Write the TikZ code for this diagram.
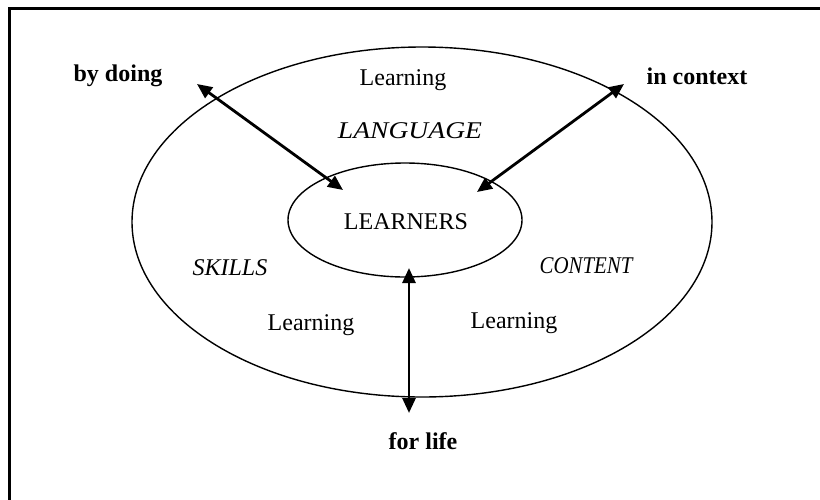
\documentclass[tikz,border=0pt]{standalone}
\usepackage{graphicx}
\usepackage{fontspec}
\setmainfont{Liberation Serif}
\usetikzlibrary{shapes.geometric,arrows.meta}
\begin{document}
\begin{tikzpicture}[x=1pt,y=-1pt,
  ring/.style={draw,ellipse,line width=1.4pt,inner sep=0pt},
  word/.style={font=\fontsize{24}{28}\selectfont,inner sep=0pt},
  itword/.style={word,font=\fontsize{24}{28}\selectfont\itshape},
  bword/.style={word,font=\fontsize{24}{28}\selectfont\bfseries},
  link/.style={line width=2.8pt,{Triangle[length=15pt,width=13pt]}-{Triangle[length=15pt,width=13pt]}}]
  \useasboundingbox (0,0) rectangle (820,499);
  % frame edges
  \begin{scope}
    \clip (0,0) rectangle (820,499);
    \draw[line width=2.6pt] (9.5,510) -- (9.5,8.2) -- (830,8.2);
  \end{scope}
  % rings
  \node[ring,minimum width=580pt,minimum height=350pt] (outer) at (422,222) {};
  \node[ring,minimum width=234pt,minimum height=114pt] (inner) at (405,220) {};
  \node[word] (learners) at (406,222) {LEARNERS};
  % ring labels
  \node[word] (learnTop) at (403,80) {Learning};
  \node[itword] (language) at (410,131) {\scalebox{1.15}[1]{LANGUAGE}};
  \node[itword] (skills) at (230,268) {SKILLS};
  \node[itword] (content) at (586,266) {\scalebox{0.87}[1]{CONTENT}};
  \node[word] (learnLeft) at (311,325) {Learning};
  \node[word] (learnRight) at (514,323) {Learning};
  % outside labels
  \node[bword] (doing) at (118,76) {by doing};
  \node[bword] (context) at (697,76) {in context};
  \node[bword] (life) at (423,441) {for life};
  % arrow ends
  \coordinate (dOut) at (197,84);
  \coordinate (dIn) at (343,190);
  \coordinate (cOut) at (624,84);
  \coordinate (cIn) at (477,192);
  \coordinate (lIn) at (409,268);
  \coordinate (lOut) at (409,413);
  \draw[link] (dOut) -- (dIn);
  \draw[link] (cOut) -- (cIn);
  \draw[link] (lIn) -- (lOut);
\end{tikzpicture}
\end{document}
